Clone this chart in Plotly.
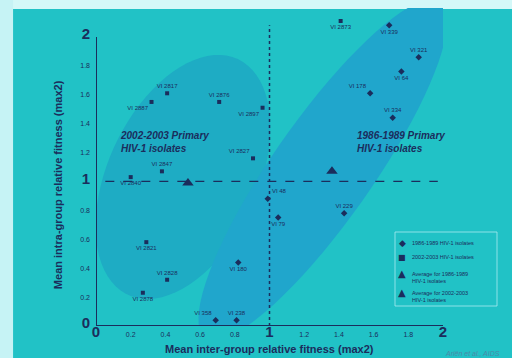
import numpy as np
import plotly.graph_objects as go

# ---------------- data ----------------
old_names = ["VI 339", "VI 321", "VI 64", "VI 178", "VI 334", "VI 48", "VI 79",
             "VI 229", "VI 180", "VI 358", "VI 238"]
old_x = [1.69, 1.86, 1.76, 1.58, 1.71, 0.99, 1.05, 1.43, 0.82, 0.69, 0.81]
old_y = [2.08, 1.86, 1.76, 1.61, 1.44, 0.88, 0.75, 0.78, 0.44, 0.04, 0.04]
old_pos = ["bottom center", "top center", "bottom center", "top left", "top center",
           "top right", "bottom center", "top center", "bottom center", "top left",
           "top center"]

new_names = ["VI 2873", "VI 2817", "VI 2887", "VI 2876", "VI 2897", "VI 2827",
             "VI 2847", "VI 2840", "VI 2821", "VI 2828", "VI 2878"]
new_x = [1.41, 0.41, 0.32, 0.71, 0.96, 0.905, 0.38, 0.20, 0.29, 0.41, 0.27]
new_y = [2.11, 1.61, 1.55, 1.55, 1.51, 1.16, 1.07, 1.03, 0.58, 0.32, 0.23]
new_pos = ["bottom center", "top center", "bottom left", "top center", "bottom left",
           "top left", "top center", "bottom center", "bottom center", "top center",
           "bottom center"]

avg_old = (1.36, 1.07)
avg_new = (0.53, 0.99)

x_ticks = [0, 0.2, 0.4, 0.6, 0.8, 1, 1.2, 1.4, 1.6, 1.8, 2]
y_ticks = [0, 0.2, 0.4, 0.6, 0.8, 1, 1.2, 1.4, 1.6, 1.8, 2]

legend_symbols = ["◆", "■", "▲", "▲"]
legend_labels = ["1986-1989 HIV-1 isolates", "2002-2003 HIV-1 isolates",
                 "Average for 1986-1989<br>HIV-1 isolates",
                 "Average for 2002-2003<br>HIV-1 isolates"]

# ---------------- styling ----------------
BG = "#21c2c6"
INK = "#1b2d5c"
ELL_L = "#1eacc4"
ELL_R = "#20a6cc"
FONT = "Liberation Sans, Arial, sans-serif"
SX, SY = 173.5, 144.5  # px per data unit
L, T, W, H = 96, 8, 347, 318  # plot area in px


def px2paper(px, py):
    return (px - L) / W, (T + H - py) / H


def tick_text(v):
    if v in (0, 1, 2):
        return "<b><span style='font-size:15px'>%d</span></b>" % v
    return "%g" % v


def ellipse_path(cx, cy, a_px, b_px, ang_deg, n=80):
    th = np.deg2rad(ang_deg)
    t = np.linspace(0, 2 * np.pi, n)
    px = a_px * np.cos(t) * np.cos(th) - b_px * np.sin(t) * np.sin(th)
    py = a_px * np.cos(t) * np.sin(th) + b_px * np.sin(t) * np.cos(th)
    xs = cx + px / SX
    ys = cy + py / SY
    d = "M %f,%f " % (xs[0], ys[0])
    d += " ".join("L %f,%f" % (x, y) for x, y in zip(xs[1:], ys[1:]))
    return d + " Z"


fig = go.Figure()

fig.add_trace(go.Scatter(
    x=old_x, y=old_y, mode="markers+text", text=old_names, textposition=old_pos,
    textfont=dict(size=6, color=INK, family=FONT),
    marker=dict(symbol="diamond", size=5, color=INK),
    name="1986-1989 HIV-1 isolates", cliponaxis=False))
fig.add_trace(go.Scatter(
    x=new_x, y=new_y, mode="markers+text", text=new_names, textposition=new_pos,
    textfont=dict(size=6, color=INK, family=FONT),
    marker=dict(symbol="square", size=4, color=INK),
    name="2002-2003 HIV-1 isolates", cliponaxis=False))
fig.add_trace(go.Scatter(
    x=[avg_old[0]], y=[avg_old[1]], mode="markers",
    marker=dict(symbol="triangle-up", size=10, color=INK),
    name="Average for 1986-1989", cliponaxis=False))
fig.add_trace(go.Scatter(
    x=[avg_new[0]], y=[avg_new[1]], mode="markers",
    marker=dict(symbol="triangle-up", size=10, color=INK),
    name="Average for 2002-2003", cliponaxis=False))

bx0, by1 = px2paper(395, 232)
bx1, by0 = px2paper(497, 306)

shapes = [
    # frame strips of the photographed slide
    dict(type="rect", xref="paper", yref="paper", x0=-0.28, x1=1.2, y0=0.997, y1=1.03,
         fillcolor="#d4f8f8", line=dict(width=0), layer="below"),
    dict(type="rect", xref="paper", yref="paper", x0=-0.28, x1=-0.239, y0=-0.11, y1=1.03,
         fillcolor="#c6f3f5", line=dict(width=0), layer="below"),
    # ellipses
    dict(type="path", xref="x", yref="y", path=ellipse_path(0.501, 1.031, 130, 75, 65),
         fillcolor=ELL_L, line=dict(width=0), layer="below"),
    dict(type="path", xref="x", yref="y", path=ellipse_path(1.308, 1.08, 205, 50, 55),
         fillcolor=ELL_R, line=dict(width=0), layer="below"),
    # axes
    dict(type="line", xref="x", yref="y", x0=0, x1=2, y0=0, y1=0,
         line=dict(color=INK, width=2)),
    dict(type="line", xref="x", yref="y", x0=0, x1=0, y0=0, y1=2,
         line=dict(color=INK, width=2)),
    # reference lines
    dict(type="line", xref="x", yref="y", x0=-0.05, x1=1.97, y0=1, y1=1,
         line=dict(color=INK, width=1.3, dash="dash")),
    dict(type="line", xref="x", yref="y", x0=1, x1=1, y0=0, y1=2.08,
         line=dict(color=INK, width=1.5, dash="dot")),
    # legend box
    dict(type="rect", xref="paper", yref="paper", x0=bx0, x1=bx1, y0=by0, y1=by1,
         line=dict(color="rgba(170,235,240,0.8)", width=1), fillcolor="rgba(0,0,0,0)"),
]

annotations = [
    dict(x=0.127, y=1.27, xref="x", yref="y", xanchor="left", yanchor="middle",
         text="<b><i>2002-2003 Primary<br>HIV-1 isolates</i></b>", align="left",
         showarrow=False, font=dict(size=10, color=INK, family=FONT)),
    dict(x=1.49, y=1.27, xref="x", yref="y", xanchor="left", yanchor="middle",
         text="<b><i>1986-1989 Primary<br>HIV-1 isolates</i></b>", align="left",
         showarrow=False, font=dict(size=10, color=INK, family=FONT)),
    dict(x=0.501, y=-0.072, xref="paper", yref="paper", xanchor="center", yanchor="middle",
         text="<b>Mean inter-group relative fitness (max2)</b>", showarrow=False,
         font=dict(size=11, color=INK, family=FONT)),
    dict(x=-0.1095, y=0.443, xref="paper", yref="paper", xanchor="center", yanchor="middle",
         text="<b>Mean intra-group relative fitness (max2)</b>", showarrow=False,
         textangle=-90, font=dict(size=11, color=INK, family=FONT)),
    dict(x=1.17, y=-0.085, xref="paper", yref="paper", xanchor="right", yanchor="middle",
         text="<i>Ariën et al., AIDS</i>", showarrow=False,
         font=dict(size=7, color="#4a8aa8", family=FONT)),
]

# manual legend rows (symbol y, text centre y) in px
leg_rows = [(243, 243), (257, 257), (273, 277), (292, 296)]
sym_sizes = [9, 8, 10, 10]
for sym, lab, (sy, ty), ss in zip(legend_symbols, legend_labels, leg_rows, sym_sizes):
    sxp, syp = px2paper(402, sy)
    txp, typ = px2paper(410, ty)
    annotations.append(dict(x=sxp, y=syp, xref="paper", yref="paper", text=sym,
                            showarrow=False, xanchor="center", yanchor="middle",
                            font=dict(size=ss, color=INK, family="DejaVu Sans")))
    annotations.append(dict(x=txp, y=typ, xref="paper", yref="paper", text=lab,
                            showarrow=False, xanchor="left", yanchor="middle",
                            align="left",
                            font=dict(size=5.5, color=INK, family=FONT)))

fig.update_layout(
    width=512, height=358,
    margin=dict(l=L, r=512 - L - W, t=T, b=358 - T - H),
    paper_bgcolor=BG, plot_bgcolor="rgba(0,0,0,0)",
    shapes=shapes, annotations=annotations,
    font=dict(family=FONT, color=INK),
    showlegend=False,
    xaxis=dict(range=[0, 2], showgrid=False, zeroline=False, showline=False,
               tickvals=x_ticks, ticktext=[tick_text(v) for v in x_ticks],
               tickfont=dict(size=7, color=INK, family=FONT), ticks="",
               ticklabelstandoff=3),
    yaxis=dict(range=[0, 2.2], showgrid=False, zeroline=False, showline=False,
               tickvals=y_ticks, ticktext=[tick_text(v) for v in y_ticks],
               tickfont=dict(size=7, color=INK, family=FONT), ticks="",
               ticklabelstandoff=5),
)

fig.write_html("out.html")
